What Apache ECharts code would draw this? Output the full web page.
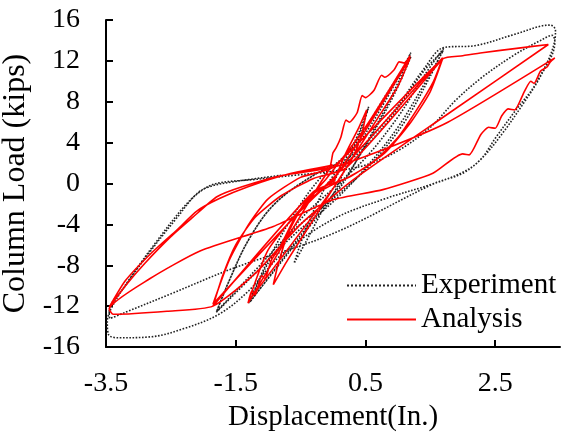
<!DOCTYPE html>
<html>
<head>
<meta charset="utf-8">
<script src="https://cdn.jsdelivr.net/npm/echarts@6/dist/echarts.min.js"></script>
<style>
  html, body { margin: 0; padding: 0; background: #fff; }
  #main { width: 566px; height: 436px; }
</style>
</head>
<body>
<div id="main"></div>
<script>
// x axis tick labels (inches) and y ticks (kips)
var xTicks = [-3.5, -1.5, 0.5, 2.5];
var xMin = -3.5, xMax = 3.5;
var yMin = -16, yMax = 16, yStep = 4;

// Experiment: displacement (in.) / load (kips), read along the dotted path
var expX = [
  0, 0.2, 0.4, 0.55, 0.45, 0.25, 0.05, -0.15, -0.4, -0.6, -0.45, -0.25, -0.05,
  // cycle to about +1.2 / -1.3
  0.3, 0.8, 1.2, 0.9, 0.5, 0.1, -0.4, -0.9, -1.3,
  -1.0, -0.6, -0.2, 0.3, 0.8, 1.2, 0.95, 0.55, 0.15, -0.35, -0.85, -1.28,
  // cycle to about +1.7 / -1.8
  -1.0, -0.5, 0, 0.5, 1.0, 1.4, 1.71, 1.5, 1.1, 0.6, 0, -0.6, -1.2, -1.79,
  -1.6, -1.3, -0.9, -0.3, 0.3, 0.9, 1.4, 1.7, 1.45, 1.0, 0.5, 0, -0.6, -1.2, -1.8,
  // first large cycle
  -1.6, -1.3, -0.9, -0.3, 0.3, 0.9, 1.4, 1.71, 2.2, 2.8, 3.2, 3.35, 3.43,
  3.42, 3.13, 2.82, 2.51, 2.27, 2.0, 1.56, 0.8, 0, -0.8, -1.3, -1.76, -2.3, -2.8, -3.3, -3.46,
  -3.48, -3.4, -3.1, -2.7, -2.3, -2.05, -1.8, -1.2, -0.6, 0, 0.5,
  // second large cycle
  1.0, 1.5, 1.9, 2.3, 2.8, 3.2, 3.38, 3.42, 3.2, 2.9, 2.6, 2.3, 2.0, 1.56,
  0, -1.54, -2.5, -3.2, -3.44, -3.45, -3.2, -2.8, -2.4, -2.1, -1.9, -1.5, -0.8
];
var expY = [
  0, 2.5, 5, 7.5, 5.5, 2.5, -0.5, -2.5, -5.5, -7.8, -5, -2, 0.3,
  3, 8, 12.8, 8.5, 3.8, -0.5, -4.5, -8.5, -11.7,
  -7.5, -3, 0.5, 3.5, 8.5, 12.4, 8.8, 4.2, 0.2, -3.8, -8, -11.6,
  -7.8, -3.5, -0.5, 2.5, 6.5, 10.5, 13.3, 10.5, 6, 2, -1.5, -4.5, -8.5, -12.5,
  -9.5, -5.5, -2, 0.8, 2.5, 6.5, 11, 13.0, 10.2, 5.5, 1.5, -1.8, -5, -8.8, -12.6,
  -9.5, -5.5, -2, 0.8, 2.8, 6.8, 11.2, 13.3, 13.5, 14.6, 15.4, 15.5, 15.0,
  14.0, 9.8, 7.2, 4.5, 2.3, 1.1, 0, -1.5, -3.5, -7, -10.5, -12.8, -14.2, -15, -15.1, -14.8,
  -13.5, -12, -9, -5.5, -2.3, -0.8, 0, 0.4, 0.8, 1.2, 1.8,
  3.2, 5.5, 8.2, 10.4, 12.6, 14.0, 14.5, 13.8, 10.5, 7.5, 4.8, 2.5, 1.0, 0,
  -4.9, -8.3, -10.8, -12.6, -13.2, -12.5, -10, -6.5, -3.3, -1.0, -0.3, 0.2, 0.8
];

// Analysis: displacement (in.) / load (kips), read along the red path
var anaX = [
  0, 0.2, 0.4, 0.52, 0.45, 0.3, 0.1, -0.1, -0.4, -0.7, -0.92, -0.85, -0.7, -0.45, -0.1,
  0.5, 1.19, 1.1, 1.02, 0.94, 0.8, 0.75, 0.63, 0.5, 0.45, 0.37, 0.25, 0.2, 0.12, 0.05, 0, -0.05, -0.2,
  -1.31, -1.25, -1.2, -1.1, -1.05, -0.95, -0.8, -0.6, -0.3, 0,
  1.19, 1.0, 0.7, 0.3, 0, -1.3, -1.0, -0.5, 0,
  1.69, 1.55, 1.3, 1.0, 0.6, 0.2, -0.3, -1.85, -1.7, -1.5, -1.2, -0.8, -0.3, 0.2,
  1.69, 1.5, 1.2, 0.8, 0.3, -0.2, -1.85,
  -1.6, -1.3, -1.0, -0.5, 0,
  // first large cycle
  1.69, 2.0, 2.3, 2.8, 3.32, 1.77, 0.3,
  -0.5, -1.2, -1.85, -2.56, -3.39, -3.45,
  -2.82, -2.05, -0.92, 0,
  // second large cycle
  0.77, 1.54, 2.0, 2.1, 2.28, 2.4, 2.5, 2.6, 2.7, 2.8, 2.95, 3.05, 3.1, 3.2, 3.3, 3.35, 3.42,
  1.77, 0.77, 0,
  -0.77, -1.39, -1.79, -2.16, -2.5, -2.9, -3.2, -3.45,
  -3.2, -2.8, -2.4, -2.1, -1.76, -1.3, -0.7, 0
];
var anaY = [
  0, 3, 5.5, 7.2, 5, 2.5, 0.5, -1.5, -4.5, -7.5, -9.9, -8, -5, -2, 0.5,
  5.5, 12.5, 11.8, 11.9, 11.1, 10.4, 10.6, 9.1, 8.4, 8.6, 6.9, 6.0, 6.2, 4.5, 3.5, 3, 1.5, 0,
  -11.7, -10.5, -10.9, -9, -9.3, -7.5, -6, -3.5, -1, 0.3,
  12.3, 9.5, 6.5, 2.5, -0.5, -11.5, -6.5, -2.5, 0.5,
  12.3, 10, 7.3, 4.5, 2.0, 0.5, -0.8, -12.0, -9, -6, -3.3, -1.2, 0.5, 1.5,
  12.2, 9, 6, 3, 0.8, -0.8, -11.8,
  -7.5, -4, -1.5, 0.6, 1.6,
  12.2, 12.5, 12.8, 13.2, 13.6, 6.8, 0.3,
  -4, -8.8, -12.0, -12.5, -12.8, -12.3,
  -9.3, -6.6, -4.2, -1.6,
  -0.6, 1.0, 2.9, 2.8, 4.8, 5.5, 5.4, 6.6, 7.3, 7.2, 9.0, 10.0, 9.8, 11.0, 11.4, 11.9, 12.3,
  6.0, 3.3, 1.6,
  0.8, -0.3, -1.3, -3.3, -5.2, -7.8, -10, -12.1,
  -9.5, -6.8, -4.5, -2.7, -1.5, -0.3, 0.9, 1.8
];

function pairs(xs, ys) {
  var out = [];
  for (var i = 0; i < xs.length; i++) {
    out.push([xs[i], ys[i]]);
  }
  return out;
}

var myChart = echarts.init(document.getElementById('main'));
var fontName = '"Liberation Serif", "Times New Roman", serif';

var option = {
  animation: false,
  grid: { left: 106, right: 6, top: 20, bottom: 89, outerBoundsMode: 'none' },
  legend: {
    orient: 'vertical',
    left: 341,
    top: 266,
    itemWidth: 69,
    itemHeight: 14,
    itemGap: 5,
    itemStyle: { opacity: 0 },
    textStyle: { fontFamily: fontName, fontSize: 29, color: '#000' },
    data: ['Experiment', 'Analysis']
  },
  xAxis: {
    type: 'value',
    min: xMin,
    max: xMax,
    name: 'Displacement(In.)',
    nameLocation: 'middle',
    nameGap: 56,
    nameTextStyle: { fontFamily: fontName, fontSize: 29, color: '#000' },
    axisLine: { onZero: false, lineStyle: { color: '#000', width: 2 } },
    axisTick: { inside: true, length: 7, lineStyle: { color: '#000', width: 2 },
      customValues: xTicks },
    axisLabel: { customValues: xTicks, fontFamily: fontName, fontSize: 28, color: '#000', margin: 23,
      formatter: function (v) { return v.toFixed(1); } },
    splitLine: { show: false }
  },
  yAxis: {
    type: 'value',
    min: yMin,
    max: yMax,
    interval: yStep,
    name: 'Column Load (kips)',
    nameLocation: 'middle',
    nameGap: 63,
    nameTextStyle: { fontFamily: fontName, fontSize: 32, color: '#000' },
    axisLine: { onZero: false, lineStyle: { color: '#000', width: 2 } },
    axisTick: { inside: true, length: 7, lineStyle: { color: '#000', width: 2 } },
    axisLabel: { fontFamily: fontName, fontSize: 28, color: '#000', margin: 26 },
    splitLine: { show: false }
  },
  series: [
    {
      name: 'Experiment',
      type: 'line',
      showSymbol: false,
      symbol: 'none',
      smooth: 0.35,
      lineStyle: { color: '#222', width: 1.6, type: 'dotted' },
      itemStyle: { color: '#222' },
      data: pairs(expX, expY)
    },
    {
      name: 'Analysis',
      type: 'line',
      showSymbol: false,
      symbol: 'none',
      smooth: 0.2,
      lineStyle: { color: '#ff0000', width: 1.6 },
      itemStyle: { color: '#ff0000' },
      data: pairs(anaX, anaY)
    }
  ]
};
myChart.setOption(option);
</script>
</body>
</html>
